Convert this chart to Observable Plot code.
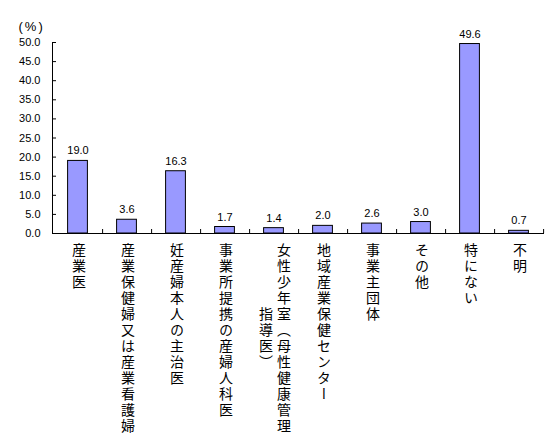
<!DOCTYPE html>
<html><head><meta charset="utf-8">
<script src="https://cdn.jsdelivr.net/npm/d3@7"></script>
<script src="https://cdn.jsdelivr.net/npm/@observablehq/plot@0.6"></script>
<style>
html,body{margin:0;padding:0;background:#fff;overflow:hidden;}
</style></head><body><div id="chart"></div>
<script>
const categories = ["産業医","産業保健婦又は産業看護婦","妊産婦本人の主治医","事業所提携の産婦人科医","女性少年室（母性健康管理指導医）","地域産業保健センター","事業主団体","その他","特にない","不明"];
const values = [19.0,3.6,16.3,1.7,1.4,2.0,2.6,3.0,49.6,0.7];
const yTicks = [0,5,10,15,20,25,30,35,40,45,50];
const unitLabel = "(%)";
const charsPerColumn = 12;

const data = categories.map((c,i)=>({category:c, value: values[i]}));
const labelCols = [];
categories.forEach(c => {
  const chars = Array.from(c);
  const n = Math.ceil(chars.length / charsPerColumn);
  for (let k=0;k<n;k++) labelCols.push({category:c, text: chars.slice(k*charsPerColumn,(k+1)*charsPerColumn).join(""), col:k, ncol:n});
});

const W=559,H=439, mL=52, mR=15, mT=42, mB=206;
const step = (W-mL-mR)/categories.length;
const tickLen = 4 * 50/(H-mT-mB);
const charPitch = 16;
const jpFont = '"Noto Sans CJK JP", sans-serif';
const numFont = '"Liberation Sans", Arial, sans-serif';

const chart = Plot.plot({
  width:W, height:H, marginLeft:mL, marginRight:mR, marginTop:mT, marginBottom:mB,
  style:{background:"#fff", fontFamily:numFont, fontSize:"11px", color:"#000"},
  x:{type:"band", domain:categories, padding:0, axis:null},
  y:{domain:[0,50], axis:null},
  marks:[
    Plot.barY(data,{x:"category", y:"value", fill:"#9999ff", stroke:"#000", strokeWidth:1, insetLeft:14.6, insetRight:14.6}),
    Plot.ruleY([0], {stroke:"#000"}),
    Plot.frame({anchor:"left", stroke:"#000"}),
    Plot.axisY({ticks:yTicks, tickFormat:d3.format(".1f"), tickSize:4, dx:4, tickPadding:12, label:null, fontSize:11, stroke:"#000"}),
    Plot.ruleX(categories, {x:d=>d, dx:step/2, y1:0, y2:tickLen, stroke:"#000"}),
    Plot.text(data, {x:"category", y:"value", text:d=>d.value.toFixed(1), dy:-10, fontSize:11, fill:"#000"}),
    Plot.text([unitLabel], {frameAnchor:"top-left", dx:-34, dy:-21, textAnchor:"start", fontSize:13, fill:"#000", fontFamily:numFont}),
    Plot.text(labelCols.filter(d=>d.ncol===1), {x:"category", text:"text", frameAnchor:"bottom", dy:9, dx:1, textAnchor:"start", fontFamily:jpFont, fontSize:14, fill:"#000"}),
    Plot.text(labelCols.filter(d=>d.ncol>1 && d.col===0), {x:"category", text:"text", frameAnchor:"bottom", dy:9, dx:10, textAnchor:"start", fontFamily:jpFont, fontSize:14, fill:"#000"}),
    Plot.text(labelCols.filter(d=>d.col===1), {x:"category", text:"text", frameAnchor:"bottom", dy:9 + charsPerColumn*charPitch/2, dx:-8, textAnchor:"middle", fontFamily:jpFont, fontSize:14, fill:"#000"})
  ]
});
const cjk = /[\u3040-\u30ff\u3400-\u9fff\uff00-\uffef]/;
chart.querySelectorAll("text").forEach(t => {
  if (cjk.test(t.textContent)) {
    t.removeAttribute("y");
    t.removeAttribute("dy");
    t.style.writingMode = "vertical-rl";
    t.style.letterSpacing = "2px";
  } else if (t.textContent === unitLabel) {
    t.style.letterSpacing = "2px";
  }
});
document.getElementById("chart").appendChild(chart);
</script>
</body></html>
